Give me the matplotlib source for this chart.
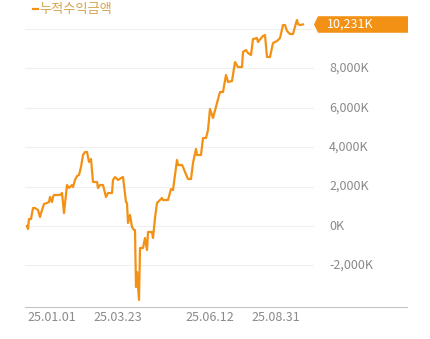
import matplotlib
matplotlib.use("Agg")
import matplotlib.pyplot as plt
from matplotlib.patches import Polygon
from matplotlib.lines import Line2D

plt.rcParams['font.family'] = ['Noto Sans CJK KR', 'DejaVu Sans']

# ========== Data (cumulative profit, thousand units) ==========
day = [0, 1, 2, 4, 6, 8, 11, 13, 15, 17, 20, 22, 23, 25, 26, 27, 33, 35, 37,
       40, 42, 45, 46, 48, 50, 52, 54, 56, 58, 60, 62, 64, 66, 70, 71, 73, 76,
       79, 81, 85, 86, 88, 91, 94, 96, 99, 100, 101, 103, 105, 107, 108, 109,
       110, 112, 113, 116, 118, 120, 121, 125, 126, 128, 130, 133, 135, 136,
       141, 144, 146, 150, 151, 155, 156, 158, 161, 164, 166, 169, 170, 174,
       176, 179, 181, 183, 186, 190, 193, 196, 199, 201, 205, 208, 211, 215,
       216, 219, 221, 224, 226, 230, 231, 235, 236, 238, 240, 243, 246, 250,
       253, 256, 258, 260, 263, 266, 269, 270, 271, 273, 276]
profit = [0, -152, 355, 355, 914, 914, 812, 457, 812, 1117, 1168, 1218, 1472,
          1218, 1472, 1574, 1574, 1675, 660, 2081, 1929, 2081, 1980, 2335,
          2538, 2589, 2995, 3604, 3756, 3756, 3249, 3401, 2234, 2234, 1929,
          2081, 2081, 1472, 1675, 1675, 2335, 2487, 2335, 2437, 2487, 1218,
          1168, 152, 558, -51, -203, -203, -3096, -2335, -3756, -1117, -1117,
          -609, -1218, -305, -305, -609, 406, 1168, 1320, 1421, 1320, 1320,
          1878, 1827, 3350, 3096, 3096, 2995, 2741, 2386, 2386, 3198, 3909,
          3604, 3604, 4467, 4467, 4873, 5939, 5482, 6244, 6802, 6802, 7665,
          7310, 7360, 8325, 8071, 8071, 8832, 8934, 8782, 8680, 9492, 9543,
          9340, 9594, 9645, 9695, 8579, 8579, 9289, 9391, 9543, 10203, 10203,
          9898, 9746, 9746, 10305, 10457, 10254, 10203, 10231]

date_pos = [25, 90.5, 182.5, 249]
date_labels = ["25.01.01", "25.03.23", "25.06.12", "25.08.31"]
y_levels = [-2000, 0, 2000, 4000, 6000, 8000, 10000]
series_name = "누적수익금액"
last_value = profit[-1]

orange = "#f39114"

# ========== Figure ==========
W, H = 431, 339
fig = plt.figure(figsize=(W / 100, H / 100), dpi=100)
ax = fig.add_axes([25 / W, (H - 307) / H, (407 - 25) / W, (307 - 5) / H])

ax.set_xlim(-2, 380)
ax.set_ylim(-4112, 11220)

# grid lines (stop short of the value labels)
for lv in y_levels:
    ax.plot([-2, 286], [lv, lv], color="#efefef", lw=0.8, zorder=1)

ax.plot(day, profit, color=orange, lw=1.6, zorder=3, solid_joinstyle="round")

# value labels on the right
for lv in y_levels:
    if lv == 10000:
        continue
    ax.text(302, lv, f"{lv:,}K", ha="left", va="center", fontsize=9,
            color="#8a8a8a")

# last value tag
top, bot = last_value + 420, last_value - 420
tag = Polygon([[287, last_value], [291, top], [381, top], [381, bot], [291, bot]],
              closed=True, facecolor=orange, edgecolor="none", clip_on=False,
              zorder=4)
ax.add_patch(tag)
ax.text(300, last_value, f"{last_value:,}K", ha="left", va="center",
        fontsize=9, color="white", zorder=5)

# axes styling
for s in ["top", "left", "right"]:
    ax.spines[s].set_visible(False)
ax.spines["bottom"].set_color("#c4c4c4")
ax.spines["bottom"].set_linewidth(0.8)
ax.set_yticks([])
ax.set_xticks(date_pos)
ax.set_xticklabels(date_labels, fontsize=9, color="#8a8a8a")
ax.tick_params(axis="x", length=0, pad=3)

# legend
fig.add_artist(Line2D([33 / W, 38 / W], [1 - 9 / H, 1 - 9 / H], color=orange,
                      lw=1.6, transform=fig.transFigure))
fig.text(39 / W, 1 - 9 / H, series_name, fontsize=9.5, color="#d6a24e",
         ha="left", va="center")

fig.savefig("out.png", dpi=100)
